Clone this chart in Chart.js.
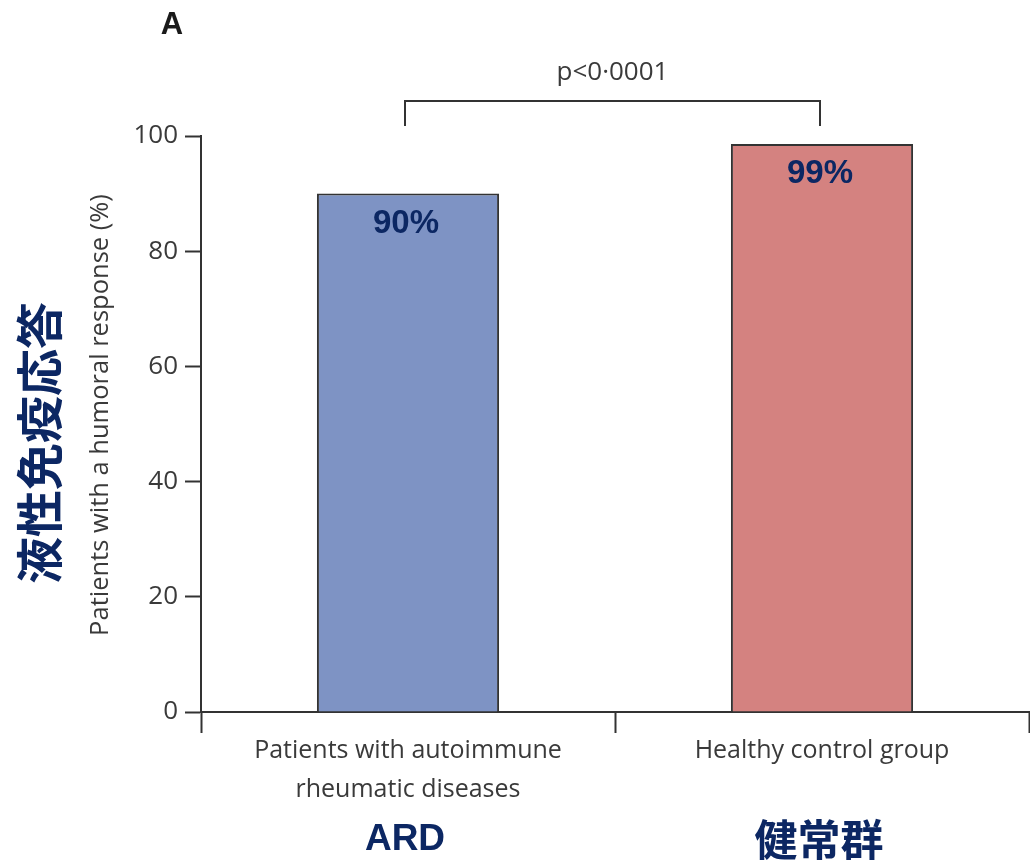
<!DOCTYPE html>
<html>
<head>
<meta charset="utf-8">
<script src="https://cdn.jsdelivr.net/npm/chart.js@4.4.1/dist/chart.umd.min.js"></script>
<style>
  html, body { margin: 0; padding: 0; background: #ffffff; }
  canvas { display: block; }
</style>
</head>
<body>
<canvas id="chart" width="1030" height="860"></canvas>
<script>
const categories = [['Patients with autoimmune', 'rheumatic diseases'], 'Healthy control group'];
const responseRates = [90, 98.6];
const barLabels = ['90%', '99%'];
const groupNames = ['ARD', '健常群'];
const barColors = ['#7e93c4', '#d48280'];
const yAxisTitle = 'Patients with a humoral response (%)';
const jpAxisTitle = '液性免疫応答';
const pValueText = 'p<0·0001';
const panelLetter = 'A';

const AXIS_COLOR = '#333333';
const TEXT_COLOR = '#3a3a3a';
const NAVY = '#0c2763';
const BASE_FONT = '"Open Sans", "Noto Sans", sans-serif';

const annotations = {
  id: 'annotations',
  afterDraw(chart) {
    const { ctx } = chart;
    const bars = chart.getDatasetMeta(0).data;
    ctx.save();

    // panel letter
    ctx.fillStyle = '#1a1a1a';
    ctx.font = 'bold 31px "Liberation Sans", Arial, sans-serif';
    ctx.textAlign = 'center';
    ctx.textBaseline = 'middle';
    ctx.fillText(panelLetter, 172, 25);

    // y axis title
    ctx.save();
    ctx.translate(101, 415);
    ctx.rotate(-Math.PI / 2);
    ctx.fillStyle = TEXT_COLOR;
    ctx.font = '25.5px ' + BASE_FONT;
    ctx.fillText(yAxisTitle, 0, 0);
    ctx.restore();

    // japanese axis title
    ctx.save();
    ctx.translate(39, 443);
    ctx.rotate(-Math.PI / 2);
    ctx.fillStyle = NAVY;
    ctx.font = 'bold 47px "Noto Sans CJK JP", sans-serif';
    ctx.fillText(jpAxisTitle, 0, 0);
    ctx.restore();

    // value labels inside bars and group names under axis
    bars.forEach((bar, i) => {
      ctx.fillStyle = NAVY;
      ctx.font = 'bold 33px "Liberation Sans", Arial, sans-serif';
      ctx.fillText(barLabels[i], bar.x - 2, bar.y + 30);
      ctx.font = i === 0
        ? 'bold 37px "Liberation Sans", Arial, sans-serif'
        : 'bold 43px "Noto Sans CJK JP", sans-serif';
      ctx.fillText(groupNames[i], bar.x - 3, 840);
    });

    // significance bracket
    const left = bars[0].x - 3;
    const right = bars[1].x - 2;
    ctx.strokeStyle = AXIS_COLOR;
    ctx.lineWidth = 2;
    ctx.beginPath();
    ctx.moveTo(left, 126);
    ctx.lineTo(left, 101);
    ctx.lineTo(right, 101);
    ctx.lineTo(right, 126);
    ctx.stroke();
    ctx.fillStyle = TEXT_COLOR;
    ctx.font = '26px ' + BASE_FONT;
    ctx.fillText(pValueText, (left + right) / 2, 73);

    ctx.restore();
  },
};

new Chart(document.getElementById('chart'), {
  type: 'bar',
  data: {
    labels: categories,
    datasets: [{
      data: responseRates,
      backgroundColor: barColors,
      borderColor: AXIS_COLOR,
      borderWidth: 2,
      borderSkipped: 'bottom',
      barPercentage: 0.44,
      categoryPercentage: 1,
    }],
  },
  options: {
    responsive: false,
    devicePixelRatio: 1,
    animation: false,
    layout: { padding: { top: 136, right: 1, left: 0, bottom: 0 } },
    plugins: {
      legend: { display: false },
      tooltip: { enabled: false },
    },
    scales: {
      y: {
        min: 0,
        max: 100,
        ticks: {
          stepSize: 20,
          color: TEXT_COLOR,
          padding: 7,
          font: { size: 26, family: BASE_FONT },
        },
        grid: {
          drawOnChartArea: false,
          tickLength: 16,
          tickWidth: 2,
          tickColor: AXIS_COLOR,
        },
        border: { color: AXIS_COLOR, width: 2 },
        afterFit(scale) { scale.width = 201; },
      },
      x: {
        ticks: {
          color: TEXT_COLOR,
          padding: -2,
          font: { size: 25, family: BASE_FONT, lineHeight: 1.56 },
        },
        grid: {
          offset: true,
          drawOnChartArea: false,
          tickLength: 21,
          tickWidth: 2,
          tickColor: AXIS_COLOR,
        },
        border: { color: AXIS_COLOR, width: 2 },
        afterFit(scale) { scale.height = 148; },
      },
    },
  },
  plugins: [annotations],
});
</script>
</body>
</html>
